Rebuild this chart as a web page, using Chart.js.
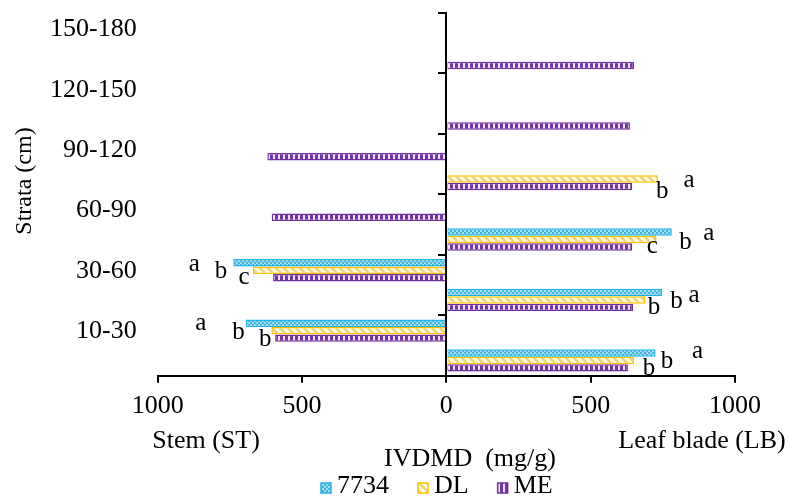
<!DOCTYPE html>
<html>
<head>
<meta charset="utf-8">
<script src="https://cdn.jsdelivr.net/npm/chart.js@4.4.1/dist/chart.umd.min.js"></script>
<style>
  body { margin: 0; background: #fff; }
  #wrap { width: 789px; height: 501px; }
</style>
</head>
<body>
<div id="wrap"><canvas id="chartIVDMD"></canvas></div>
<script>
const strata = ["150-180", "120-150", "90-120", "60-90", "30-60", "10-30"];
const varieties = ["7734", "DL", "ME"];

// stem (ST) goes to the left, so stored negative
const stem7734 = [null, null, null, null, -738, -695];
const stemDL = [null, null, null, null, -670, -606];
const stemME = [null, null, -620, -605, -600, -593];

// leaf blade (LB)
const leaf7734 = [null, null, null, 781, 747, 725];
const leafDL = [null, null, 733, 728, 690, 650];
const leafME = [650, 636, 644, 644, 647, 629];

// letters of significance
const stem7734Sig = [null, null, null, null, "a", "a"];
const stemDLSig = [null, null, null, null, "b", "b"];
const stemMESig = [null, null, null, null, "c", "b"];
const leaf7734Sig = [null, null, null, "a", "a", "a"];
const leafDLSig = [null, null, "a", "b", "b", "b"];
const leafMESig = [null, null, "b", "c", "b", "b"];

const spacer = [null, null, null, null, null, null];

// where each letter sits from the end of its bar (px)
const sigOffsets = {
  0: { 4: [-39, 8], 5: [-45, 7] },
  1: { 4: [-32, 8], 5: [-33, 8] },
  2: { 4: [-29, 6], 5: [-10, 8] },
  4: { 3: [37, 8], 4: [32, 9], 5: [42, 5] },
  5: { 2: [31, 8], 3: [29, 10], 4: [31, 8], 5: [33, 8] },
  6: { 2: [30, 12], 3: [20, 6], 4: [21, 7], 5: [21, 7] },
};

const serif = "'Liberation Serif', 'Times New Roman', serif";

function makePattern(w, h, draw) {
  const c = document.createElement("canvas");
  c.width = w;
  c.height = h;
  const g = c.getContext("2d");
  draw(g);
  return g.createPattern(c, "repeat");
}

const fill7734 = makePattern(4, 4, (g) => {
  g.fillStyle = "#a8ddf1";
  g.fillRect(0, 0, 4, 4);
  g.fillStyle = "#3db4e0";
  g.fillRect(0, 0, 2, 2);
  g.fillRect(2, 2, 2, 2);
});
const fillDL = makePattern(8, 8, (g) => {
  g.fillStyle = "#fffbe8";
  g.fillRect(0, 0, 8, 8);
  g.strokeStyle = "#f1d36a";
  g.lineWidth = 2.5;
  g.beginPath();
  g.moveTo(-2, -2); g.lineTo(10, 10);
  g.moveTo(-2, 6); g.lineTo(2, 10);
  g.moveTo(6, -2); g.lineTo(10, 2);
  g.stroke();
});
const fillME = makePattern(5, 5, (g) => {
  g.fillStyle = "#7533a8";
  g.fillRect(0, 0, 5, 5);
  g.fillStyle = "#efe6f7";
  g.fillRect(3, 0, 2, 5);
});

const fills = [fill7734, fillDL, fillME];
const borders = ["#1cb2ea", "#ffc000", "#7030a0"];

function barSet(label, data, k, sig) {
  return {
    label: label,
    data: data,
    sig: sig,
    backgroundColor: fills[k],
    borderColor: borders[k],
    borderWidth: 1.5,
  };
}

const decor = {
  id: "decor",
  afterDraw(chart) {
    const ctx = chart.ctx;
    ctx.save();
    ctx.fillStyle = "#000";
    ctx.font = "25px " + serif;
    ctx.textAlign = "center";
    ctx.textBaseline = "alphabetic";

    chart.data.datasets.forEach((ds, i) => {
      if (!ds.sig) return;
      chart.getDatasetMeta(i).data.forEach((bar, j) => {
        const letter = ds.sig[j];
        if (!letter) return;
        const off = sigOffsets[i][j];
        ctx.fillText(letter, bar.x + off[0], bar.y + off[1]);
      });
    });

    ctx.font = "26px " + serif;
    ctx.fillText("Stem (ST)", 206, 448);
    ctx.fillText("Leaf blade (LB)", 702, 448);
    ctx.fillText("IVDMD  (mg/g)", 470, 466);

    ctx.save();
    ctx.font = "24px " + serif;
    ctx.translate(31, 181);
    ctx.rotate(-Math.PI / 2);
    ctx.fillText("Strata (cm)", 0, 0);
    ctx.restore();

    // legend
    ctx.textAlign = "left";
    let x = 321;
    varieties.forEach((name, k) => {
      ctx.fillStyle = fills[k];
      ctx.fillRect(x, 483, 10, 10);
      ctx.strokeStyle = borders[k];
      ctx.lineWidth = 1.5;
      ctx.strokeRect(x, 483, 10, 10);
      ctx.fillStyle = "#000";
      ctx.fillText(name, x + 16, 493);
      x += 16 + ctx.measureText(name).width + 29;
    });
    ctx.restore();
  },
};

const chart = new Chart("chartIVDMD", {
  type: "bar",
  data: {
    labels: strata,
    datasets: [
      barSet("7734", stem7734, 0, stem7734Sig),
      barSet("DL", stemDL, 1, stemDLSig),
      barSet("ME", stemME, 2, stemMESig),
      { label: "", data: spacer },
      barSet("7734", leaf7734, 0, leaf7734Sig),
      barSet("DL", leafDL, 1, leafDLSig),
      barSet("ME", leafME, 2, leafMESig),
    ],
  },
  options: {
    indexAxis: "y",
    responsive: true,
    maintainAspectRatio: false,
    animation: false,
    categoryPercentage: 0.86,
    barPercentage: 1,
    layout: { padding: { left: 50, right: 54, top: 13, bottom: 71 } },
    plugins: {
      legend: { display: false },
      tooltip: { enabled: false },
    },
    scales: {
      x: {
        type: "linear",
        min: -1000,
        max: 1000,
        ticks: {
          stepSize: 500,
          callback: (v) => Math.abs(v),
          color: "#000",
          font: { family: serif, size: 26 },
          padding: 8,
        },
        grid: { drawOnChartArea: false, color: "#000", lineWidth: 2, tickLength: 7 },
        border: { color: "#000", width: 2 },
      },
      y: {
        type: "category",
        position: "left",
        offset: true,
        ticks: {
          color: "#000",
          font: { family: serif, size: 26, lineHeight: 1 },
          padding: 0,
          labelOffset: -14,
        },
        grid: { display: false, tickLength: 21 },
        border: { display: false },
      },
      yZero: {
        type: "category",
        axis: "y",
        labels: strata,
        position: { x: 0 },
        offset: true,
        ticks: { display: false },
        grid: { offset: true, drawOnChartArea: false, color: "#000", lineWidth: 2, tickLength: 7 },
        border: { color: "#000", width: 2 },
      },
    },
  },
  plugins: [decor],
});
</script>
</body>
</html>
